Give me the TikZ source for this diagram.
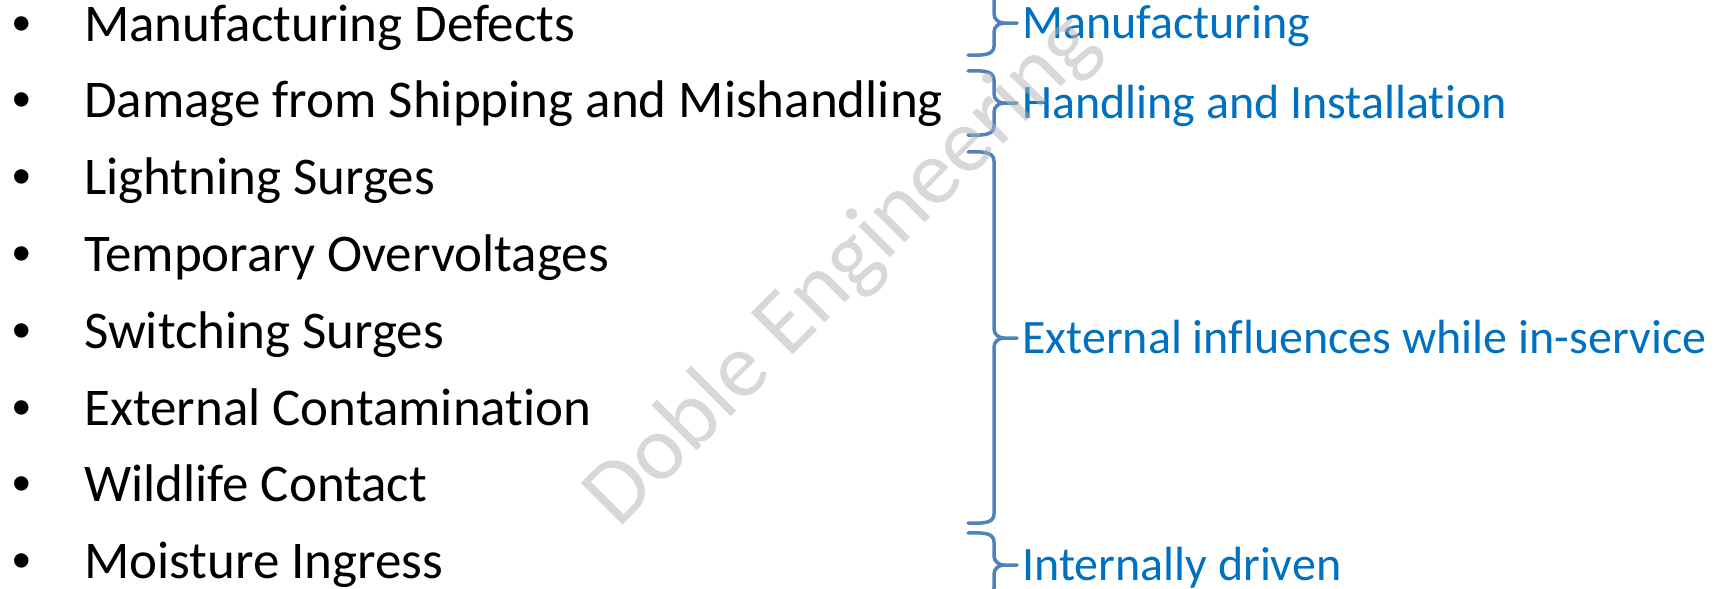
\documentclass[tikz,border=0pt]{standalone}
\usepackage{fontspec}
\setmainfont[Ligatures=NoCommon]{Carlito}
\newfontfamily\bulletfont{Liberation Sans}
\usetikzlibrary{positioning,calc}

\definecolor{bracecol}{RGB}{79,129,189}
\definecolor{labelcol}{RGB}{0,112,192}

% right brace: top, tip, bottom (y in px, downwards)
\newcommand{\sidebrace}[3]{%
  \draw[brace] (968,#1) to[out=0,in=90] (994,#1+9) -- (994,#2-9)
    to[out=-90,in=180] (1004,#2) -- (1017,#2);
  \draw[brace] (1004,#2) to[out=180,in=90] (994,#2+9) -- (994,#3-9)
    to[out=-90,in=0] (968,#3);}

\begin{document}
\begin{tikzpicture}[x=1pt, y=-1pt,
    item/.style={anchor=base west, inner sep=0pt, font=\fontsize{53}{60}\selectfont},
    dot/.style={anchor=base, inner sep=0pt, font=\bulletfont\fontsize{53}{60}\selectfont},
    lbl/.style={anchor=base west, inner sep=0pt, text=labelcol, font=\fontsize{48}{56}\selectfont},
    brace/.style={draw=bracecol, line width=3.5pt, line cap=round, line join=round},
    wmark/.style={anchor=base, inner sep=0pt, text=black!30, opacity=0.5, rotate=45, font=\fontsize{92}{100}\selectfont}]

        \useasboundingbox (0,0) rectangle (1719,589);

        % Causes
        \node[item] (defects) at (84,41) {Manufacturing Defects};
        \node[item] (shipping) at (84,117.8) {Damage from Shipping and Mishandling};
        \node[item] (lightning) at (84,194.6) {Lightning Surges};
        \node[item] (tov) at (84,271.4) {Temporary Overvoltages};
        \node[item] (switching) at (84,348.2) {Switching Surges};
        \node[item] (contamination) at (84,425) {External Contamination};
        \node[item] (wildlife) at (84,501.8) {Wildlife Contact};
        \node[item] (moisture) at (84,578.6) {Moisture Ingress};

        % Bullets
        \node[dot] (b1) at (22,41) {•};
        \node[dot] (b2) at (22,117.8) {•};
        \node[dot] (b3) at (22,194.6) {•};
        \node[dot] (b4) at (22,271.4) {•};
        \node[dot] (b5) at (22,348.2) {•};
        \node[dot] (b6) at (22,425) {•};
        \node[dot] (b7) at (22,501.8) {•};
        \node[dot] (b8) at (22,578.6) {•};

        % Braces
        \sidebrace{-9}{23}{55}
        \sidebrace{71}{103}{135}
        \sidebrace{152}{338}{523}
        \sidebrace{533}{565}{597}

        % Groups
        \node[lbl] (manufacturing) at (1022,38) {Manufacturing};
        \node[lbl] (handling) at (1022,118) {Handling and Installation};
        \node[lbl] (external) at (1022,353) {External influences while in-service};
        \node[lbl] (internal) at (1022,580) {Internally driven};

        % Watermark
        \node[wmark] (doble) at (860,288) {Doble Engineering};

    \end{tikzpicture}
\end{document}
